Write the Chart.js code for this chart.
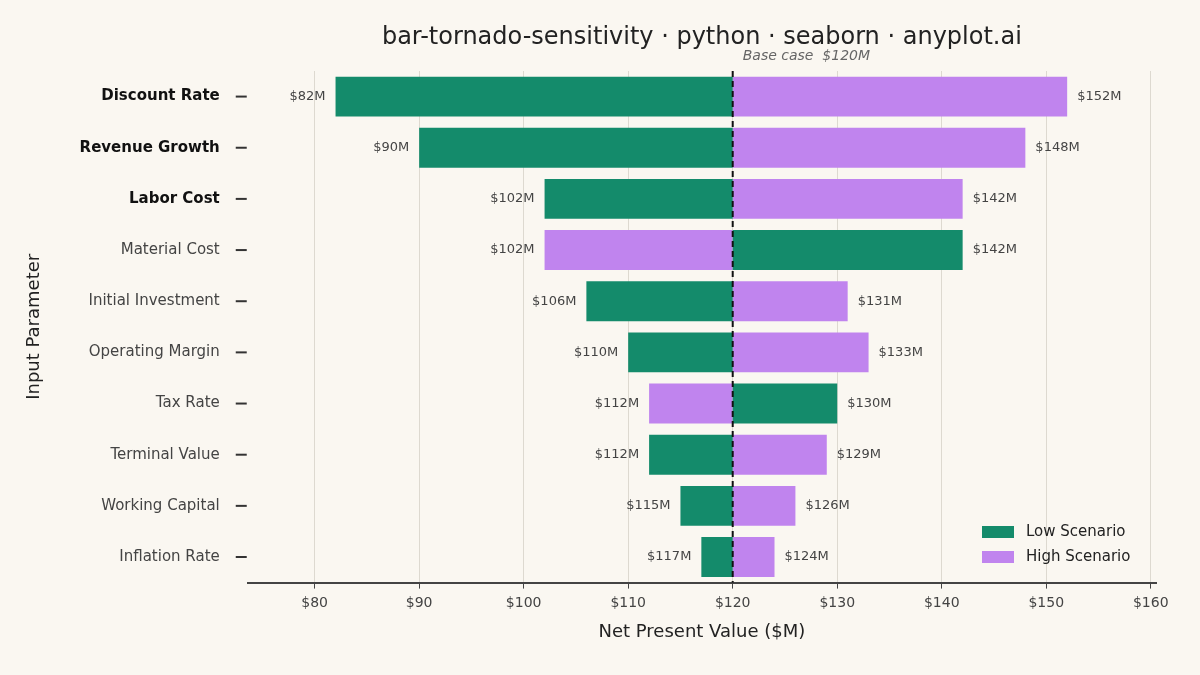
<!DOCTYPE html>
<html><head><meta charset="utf-8">
<script src="https://cdn.jsdelivr.net/npm/chart.js@4"></script>
<style>html,body{margin:0;background:#FAF7F1}#w{width:1200px;height:675px}</style>
</head><body><div id="w"><canvas id="c"></canvas></div>
<script>
const params=["Discount Rate","Revenue Growth","Labor Cost","Material Cost","Initial Investment","Operating Margin","Tax Rate","Terminal Value","Working Capital","Inflation Rate"];
const lowVals=[82,90,102,142,106,110,130,112,115,117];
const highVals=[152,148,142,102,131,133,112,129,126,124];
const baseCase=120;
const boldParams=["Discount Rate","Revenue Growth","Labor Cost"];
const xTicks=[80,90,100,110,120,130,140,150,160];
const GREEN="#148B6B",PURPLE="#C084EE";

const labelPlugin={id:'lab',
 afterDatasetsDraw(ch){
  const ctx=ch.ctx,x=ch.scales.x,y=ch.scales.y,a=ch.chartArea;
  ctx.save();
  ctx.font='24px "DejaVu Sans"';ctx.fillStyle='#222';ctx.textAlign='center';ctx.textBaseline='middle';
  ctx.fillText('bar-tornado-sensitivity · python · seaborn · anyplot.ai',(a.left+a.right)/2,38);
  ctx.font='13px "DejaVu Sans"';ctx.fillStyle='#444';
  ctx.strokeStyle='#333';ctx.lineWidth=2;
  params.forEach((p,i)=>{
    const py=y.getPixelForValue(i);
    ctx.beginPath();ctx.moveTo(a.left-12,py);ctx.lineTo(a.left-1,py);ctx.stroke();
    [lowVals[i],highVals[i]].forEach(v=>{
      const px=x.getPixelForValue(v);
      if(v<baseCase){ctx.textAlign='right';ctx.fillText('$'+v+'M',px-10,py);}
      else{ctx.textAlign='left';ctx.fillText('$'+v+'M',px+10,py);}
    });
  });
  const bx=x.getPixelForValue(baseCase);
  ctx.strokeStyle='#111';ctx.lineWidth=2;ctx.setLineDash([6,4]);
  ctx.beginPath();ctx.moveTo(bx,a.top);ctx.lineTo(bx,a.bottom);ctx.stroke();ctx.setLineDash([]);
  ctx.font='italic 14px "DejaVu Sans"';ctx.fillStyle='#666';ctx.textAlign='left';ctx.textBaseline='bottom';
  ctx.fillText('Base case  $'+baseCase+'M',bx+10,a.top-8);
  ctx.font='15px "DejaVu Sans"';ctx.textBaseline='middle';
  [["Low Scenario",GREEN,532],["High Scenario",PURPLE,557]].forEach(([t,c,yy])=>{
    ctx.fillStyle=c;ctx.fillRect(982,yy-6,32,12);ctx.fillStyle='#222';ctx.fillText(t,1026,yy);
  });
  ctx.restore();
 }};

new Chart(document.getElementById('c'),{
 type:'bar',
 data:{labels:params,datasets:[
  {label:'Low Scenario',data:lowVals.map(v=>[baseCase,v]),backgroundColor:GREEN},
  {label:'High Scenario',data:highVals.map(v=>[baseCase,v]),backgroundColor:PURPLE}]},
 options:{indexAxis:'y',responsive:true,maintainAspectRatio:false,animation:false,
  grouped:false,categoryPercentage:0.78,barPercentage:1,
  layout:{padding:{left:20,right:44,top:71,bottom:28}},
  plugins:{legend:{display:false},tooltip:{enabled:false},title:{display:false}},
  scales:{
   x:{min:73.6,max:160.5,afterBuildTicks(s){s.ticks=xTicks.map(v=>({value:v}));},
    ticks:{color:'#444',font:{family:'DejaVu Sans',size:14},callback:v=>'$'+v,padding:6},
    grid:{color:'#DDD9D0',drawTicks:true,tickLength:6,tickColor:'#444'},
    border:{color:'#444',width:2},
    title:{display:true,text:'Net Present Value ($M)',color:'#222',font:{family:'DejaVu Sans',size:18},padding:{top:4}}},
   y:{grid:{display:false},border:{display:false},
    ticks:{color:ctx=>boldParams.includes(params[ctx.index])?'#111':'#444',
     font:ctx=>({family:'DejaVu Sans',size:15,weight:boldParams.includes(params[ctx.index])?'bold':'normal'}),padding:20},
    title:{display:true,text:'Input Parameter',color:'#222',font:{family:'DejaVu Sans',size:18},padding:{bottom:14}}}
  }},
 plugins:[labelPlugin,{id:'bg',beforeDraw(ch){ch.ctx.save();ch.ctx.fillStyle='#FAF7F1';ch.ctx.fillRect(0,0,ch.width,ch.height);ch.ctx.restore();}}]
});
</script></body></html>
